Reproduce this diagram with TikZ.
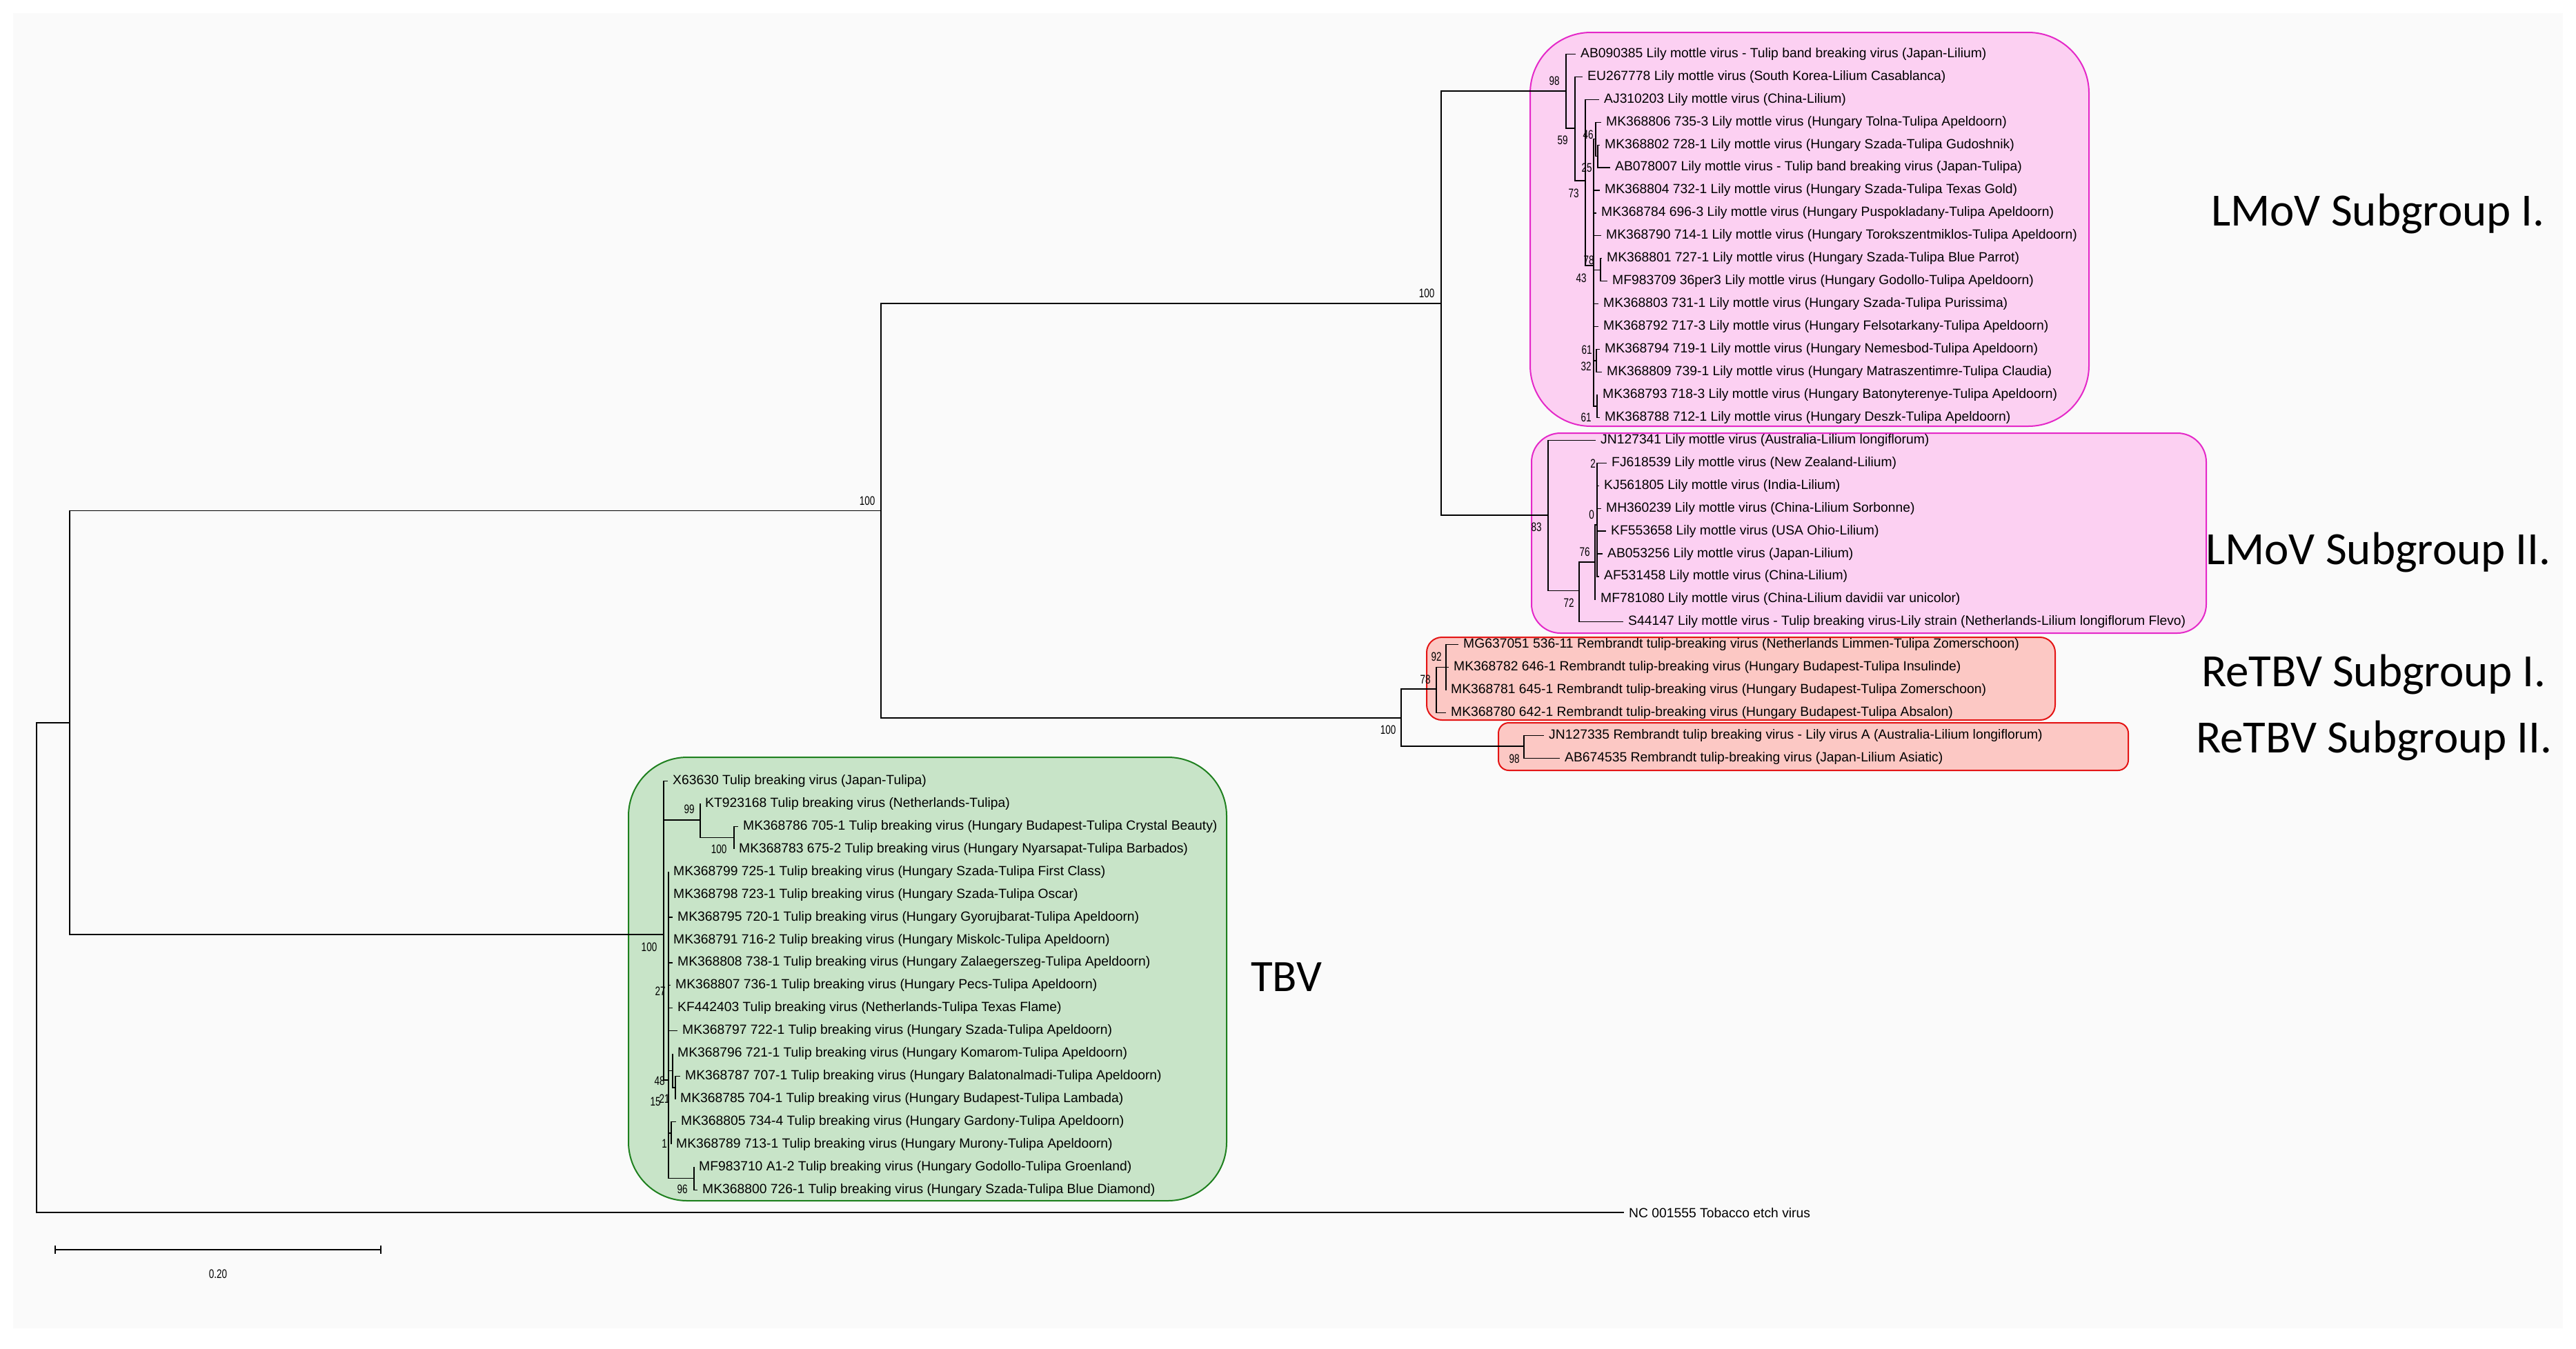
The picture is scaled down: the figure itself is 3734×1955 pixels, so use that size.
\documentclass[tikz,border=0pt]{standalone}
\usepackage{fontspec}
\setmainfont{Liberation Sans}
\newfontfamily\bsfont[FakeStretch=0.75]{Liberation Sans}
\newfontfamily\grpfont{Carlito}
\definecolor{bgc}{RGB}{250,250,250}
\definecolor{lmfill}{RGB}{252,208,242}
\definecolor{lmdraw}{RGB}{228,40,200}
\definecolor{rtfill}{RGB}{252,200,196}
\definecolor{rtdraw}{RGB}{228,20,20}
\definecolor{tbfill}{RGB}{200,228,200}
\definecolor{tbdraw}{RGB}{30,128,30}
\begin{document}
\begin{tikzpicture}[x=1pt,y=-1pt,
  br/.style={line width=1.8pt},
  ib/.style={line width=1.2pt},
  leaf/.style={anchor=west, inner xsep=7pt, inner ysep=0pt, font=\fontsize{19.3}{22}\selectfont},
  bs/.style={inner sep=0pt, font=\bsfont\fontsize{18}{20}\selectfont},
  grp/.style={anchor=base west, inner sep=0pt, font=\grpfont\fontsize{67}{74}\selectfont},
  lmbox/.style={draw=lmdraw, fill=lmfill, line width=2pt},
  rtbox/.style={draw=rtdraw, fill=rtfill, line width=2pt},
  tbbox/.style={draw=tbdraw, fill=tbfill, line width=2pt}]
\useasboundingbox (0,0) rectangle (3734,1955);
\fill[white] (0,0) rectangle (3734,1955);
\fill[bgc] (19,19) rectangle (3715,1926);
% group boxes
\draw[lmbox, rounded corners=88pt] (2218,47) rectangle (3028,618);
\draw[lmbox, rounded corners=42pt] (2220,628) rectangle (3198,918);
\draw[rtbox, rounded corners=22pt] (2068,924) rectangle (2979,1044);
\draw[rtbox, rounded corners=15pt] (2172,1048) rectangle (3085,1117);
\draw[tbbox, rounded corners=85pt] (911,1098) rectangle (1778,1741);
% internal nodes
\coordinate (root) at (53,1403);
\coordinate (B) at (101,1048);
\coordinate (A) at (1277,740.5);
\coordinate (L) at (2089,440);
\coordinate (R0) at (2031,1041);
\coordinate (R1) at (2082,999.3);
\coordinate (R2) at (2096,967.7);
\coordinate (R3) at (2209,1082);
\coordinate (N1) at (2270,131.7);
\coordinate (N2) at (2283,186);
\coordinate (N3) at (2298,262);
\coordinate (N4) at (2310,385);
\coordinate (C46) at (2313,201.8);
\coordinate (C25) at (2316,226.5);
\coordinate (C78) at (2320,391.2);
\coordinate (C61a) at (2314,523);
\coordinate (C61b) at (2315,588.9);
\coordinate (M1) at (2244,747);
\coordinate (M2) at (2289,856.7);
\coordinate (M3) at (2312,815);
\coordinate (S0) at (2315,761);
\coordinate (T0) at (962,1355);
\coordinate (T99) at (1015,1189);
\coordinate (T100) at (1064,1214.8);
\coordinate (T1) at (969,1566);
\coordinate (T48) at (975,1552.6);
\coordinate (T21) at (979,1577);
\coordinate (T1c) at (973,1643);
\coordinate (T96) at (1006,1708.8);
% leaves
\node[leaf] (l1) at (2284,78.3) {AB090385 Lily mottle virus - Tulip band breaking virus (Japan-Lilium)};
\node[leaf] (l2) at (2294,111.2) {EU267778 Lily mottle virus (South Korea-Lilium Casablanca)};
\node[leaf] (l3) at (2318,144.2) {AJ310203 Lily mottle virus (China-Lilium)};
\node[leaf] (l4) at (2321,177.1) {MK368806 735-3 Lily mottle virus (Hungary Tolna-Tulipa Apeldoorn)};
\node[leaf] (l5) at (2319,210.1) {MK368802 728-1 Lily mottle virus (Hungary Szada-Tulipa Gudoshnik)};
\node[leaf] (l6) at (2334,243.0) {AB078007 Lily mottle virus - Tulip band breaking virus (Japan-Tulipa)};
\node[leaf] (l7) at (2319,275.9) {MK368804 732-1 Lily mottle virus (Hungary Szada-Tulipa Texas Gold)};
\node[leaf] (l8) at (2314,308.9) {MK368784 696-3 Lily mottle virus (Hungary Puspokladany-Tulipa Apeldoorn)};
\node[leaf] (l9) at (2321,341.8) {MK368790 714-1 Lily mottle virus (Hungary Torokszentmiklos-Tulipa Apeldoorn)};
\node[leaf] (l10) at (2322,374.8) {MK368801 727-1 Lily mottle virus (Hungary Szada-Tulipa Blue Parrot)};
\node[leaf] (l11) at (2330,407.7) {MF983709 36per3 Lily mottle virus (Hungary Godollo-Tulipa Apeldoorn)};
\node[leaf] (l12) at (2317,440.6) {MK368803 731-1 Lily mottle virus (Hungary Szada-Tulipa Purissima)};
\node[leaf] (l13) at (2317,473.6) {MK368792 717-3 Lily mottle virus (Hungary Felsotarkany-Tulipa Apeldoorn)};
\node[leaf] (l14) at (2319,506.5) {MK368794 719-1 Lily mottle virus (Hungary Nemesbod-Tulipa Apeldoorn)};
\node[leaf] (l15) at (2322,539.5) {MK368809 739-1 Lily mottle virus (Hungary Matraszentimre-Tulipa Claudia)};
\node[leaf] (l16) at (2316,572.4) {MK368793 718-3 Lily mottle virus (Hungary Batonyterenye-Tulipa Apeldoorn)};
\node[leaf] (l17) at (2319,605.3) {MK368788 712-1 Lily mottle virus (Hungary Deszk-Tulipa Apeldoorn)};
\node[leaf] (l18) at (2313,638.3) {JN127341 Lily mottle virus (Australia-Lilium longiflorum)};
\node[leaf] (l19) at (2329,671.2) {FJ618539 Lily mottle virus (New Zealand-Lilium)};
\node[leaf] (l20) at (2318,704.2) {KJ561805 Lily mottle virus (India-Lilium)};
\node[leaf] (l21) at (2321,737.1) {MH360239 Lily mottle virus (China-Lilium Sorbonne)};
\node[leaf] (l22) at (2328,770.0) {KF553658 Lily mottle virus (USA Ohio-Lilium)};
\node[leaf] (l23) at (2323,803.0) {AB053256 Lily mottle virus (Japan-Lilium)};
\node[leaf] (l24) at (2318,835.9) {AF531458 Lily mottle virus (China-Lilium)};
\node[leaf] (l25) at (2313,868.9) {MF781080 Lily mottle virus (China-Lilium davidii var unicolor)};
\node[leaf] (l26) at (2353,901.8) {S44147 Lily mottle virus - Tulip breaking virus-Lily strain (Netherlands-Lilium longiflorum Flevo)};
\node[leaf] (l27) at (2114,934.7) {MG637051 536-11 Rembrandt tulip-breaking virus (Netherlands Limmen-Tulipa Zomerschoon)};
\node[leaf] (l28) at (2100,967.7) {MK368782 646-1 Rembrandt tulip-breaking virus (Hungary Budapest-Tulipa Insulinde)};
\node[leaf] (l29) at (2096,1000.6) {MK368781 645-1 Rembrandt tulip-breaking virus (Hungary Budapest-Tulipa Zomerschoon)};
\node[leaf] (l30) at (2096,1033.6) {MK368780 642-1 Rembrandt tulip-breaking virus (Hungary Budapest-Tulipa Absalon)};
\node[leaf] (l31) at (2238,1066.5) {JN127335 Rembrandt tulip breaking virus - Lily virus A (Australia-Lilium longiflorum)};
\node[leaf] (l32) at (2261,1099.4) {AB674535 Rembrandt tulip-breaking virus (Japan-Lilium Asiatic)};
\node[leaf] (l33) at (968,1132.4) {X63630 Tulip breaking virus (Japan-Tulipa)};
\node[leaf] (l34) at (1015,1165.3) {KT923168 Tulip breaking virus (Netherlands-Tulipa)};
\node[leaf] (l35) at (1070,1198.3) {MK368786 705-1 Tulip breaking virus (Hungary Budapest-Tulipa Crystal Beauty)};
\node[leaf] (l36) at (1064,1231.2) {MK368783 675-2 Tulip breaking virus (Hungary Nyarsapat-Tulipa Barbados)};
\node[leaf] (l37) at (969,1264.1) {MK368799 725-1 Tulip breaking virus (Hungary Szada-Tulipa First Class)};
\node[leaf] (l38) at (969,1297.1) {MK368798 723-1 Tulip breaking virus (Hungary Szada-Tulipa Oscar)};
\node[leaf] (l39) at (975,1330.0) {MK368795 720-1 Tulip breaking virus (Hungary Gyorujbarat-Tulipa Apeldoorn)};
\node[leaf] (l40) at (969,1363.0) {MK368791 716-2 Tulip breaking virus (Hungary Miskolc-Tulipa Apeldoorn)};
\node[leaf] (l41) at (975,1395.9) {MK368808 738-1 Tulip breaking virus (Hungary Zalaegerszeg-Tulipa Apeldoorn)};
\node[leaf] (l42) at (972,1428.8) {MK368807 736-1 Tulip breaking virus (Hungary Pecs-Tulipa Apeldoorn)};
\node[leaf] (l43) at (975,1461.8) {KF442403 Tulip breaking virus (Netherlands-Tulipa Texas Flame)};
\node[leaf] (l44) at (982,1494.7) {MK368797 722-1 Tulip breaking virus (Hungary Szada-Tulipa Apeldoorn)};
\node[leaf] (l45) at (975,1527.7) {MK368796 721-1 Tulip breaking virus (Hungary Komarom-Tulipa Apeldoorn)};
\node[leaf] (l46) at (986,1560.6) {MK368787 707-1 Tulip breaking virus (Hungary Balatonalmadi-Tulipa Apeldoorn)};
\node[leaf] (l47) at (979,1593.5) {MK368785 704-1 Tulip breaking virus (Hungary Budapest-Tulipa Lambada)};
\node[leaf] (l48) at (980,1626.5) {MK368805 734-4 Tulip breaking virus (Hungary Gardony-Tulipa Apeldoorn)};
\node[leaf] (l49) at (973,1659.4) {MK368789 713-1 Tulip breaking virus (Hungary Murony-Tulipa Apeldoorn)};
\node[leaf] (l50) at (1006,1692.4) {MF983710 A1-2 Tulip breaking virus (Hungary Godollo-Tulipa Groenland)};
\node[leaf] (l51) at (1011,1725.3) {MK368800 726-1 Tulip breaking virus (Hungary Szada-Tulipa Blue Diamond)};
\node[leaf] (l52) at (2354,1758.2) {NC 001555 Tobacco etch virus};
% main branches
\draw[br] (root) |- (B);
\draw[br] (root) |- (l52.west);
\draw[br] (B) |- (A);
\draw[br] (B) |- (T0);
\draw[br] (A) |- (L);
\draw[br] (A) |- (R0);
\draw[br] (L) |- (N1);
\draw[br] (L) |- (M1);
\draw[br] (R0) |- (R1);
\draw[br] (R0) |- (R3);
% LMoV I
\draw[ib] (N1) |- (l1.west);
\draw[ib] (N1) |- (N2);
\draw[ib] (N2) |- (l2.west);
\draw[ib] (N2) |- (N3);
\draw[ib] (N3) |- (l3.west);
\draw[ib] (N3) |- (N4);
\draw[ib] (N4) |- (C46);
\draw[ib] (C46) |- (l4.west);
\draw[ib] (C46) |- (C25);
\draw[ib] (C25) |- (l5.west);
\draw[ib] (C25) |- (l6.west);
\draw[ib] (N4) |- (l7.west);
\draw[ib] (N4) |- (l8.west);
\draw[ib] (N4) |- (l9.west);
\draw[ib] (N4) |- (C78);
\draw[ib] (C78) |- (l10.west);
\draw[ib] (C78) |- (l11.west);
\draw[ib] (N4) |- (l12.west);
\draw[ib] (N4) |- (l13.west);
\draw[ib] (N4) |- (C61a);
\draw[ib] (C61a) |- (l14.west);
\draw[ib] (C61a) |- (l15.west);
\draw[ib] (N4) |- (C61b);
\draw[ib] (C61b) |- (l16.west);
\draw[ib] (C61b) |- (l17.west);
% LMoV II
\draw[ib] (M1) |- (l18.west);
\draw[ib] (M1) |- (M2);
\draw[ib] (M2) |- (M3);
\draw[ib] (M2) |- (l26.west);
\draw[ib] (M3) |- (S0);
\draw[ib] (M3) |- (l25.west);
\foreach \k in {19,...,24} {\draw[ib] (S0) |- (l\k.west);}
% ReTBV
\draw[ib] (R1) |- (R2);
\draw[ib] (R1) |- (l30.west);
\draw[ib] (R2) |- (l27.west);
\draw[ib] (R2) |- (l28.west);
\draw[ib] (R2) |- (l29.west);
\draw[ib] (R3) |- (l31.west);
\draw[ib] (R3) |- (l32.west);
% TBV
\draw[ib] (T0) |- (l33.west);
\draw[ib] (T0) |- (T99);
\draw[ib] (T0) |- (T1);
\draw[ib] (T99) |- (l34.west);
\draw[ib] (T99) |- (T100);
\draw[ib] (T100) |- (l35.west);
\draw[ib] (T100) |- (l36.west);
\foreach \k in {37,...,44} {\draw[ib] (T1) |- (l\k.west);}
\draw[ib] (T1) |- (T48);
\draw[ib] (T48) |- (l45.west);
\draw[ib] (T48) |- (T21);
\draw[ib] (T21) |- (l46.west);
\draw[ib] (T21) |- (l47.west);
\draw[ib] (T1) |- (T1c);
\draw[ib] (T1c) |- (l48.west);
\draw[ib] (T1c) |- (l49.west);
\draw[ib] (T1) |- (T96);
\draw[ib] (T96) |- (l50.west);
\draw[ib] (T96) |- (l51.west);
% bootstrap values
\node[bs] (b1) at (2068,425) {100};
\node[bs] (b2) at (1257,726) {100};
\node[bs] (b3) at (2012,1058) {100};
\node[bs] (b4) at (941,1373) {100};
\node[bs] (b5) at (2253,117) {98};
\node[bs] (b6) at (2265,203) {59};
\node[bs] (b7) at (2281,280) {73};
\node[bs] (b8) at (2302,195) {46};
\node[bs] (b9) at (2300,243) {25};
\node[bs] (b10) at (2303,377) {78};
\node[bs] (b11) at (2292,403) {43};
\node[bs] (b12) at (2300,507) {61};
\node[bs] (b13) at (2299,531) {32};
\node[bs] (b14) at (2299,605) {61};
\node[bs] (b15) at (2227,764) {83};
\node[bs] (b16) at (2309,672) {2};
\node[bs] (b17) at (2307,746) {0};
\node[bs] (b18) at (2297,800) {76};
\node[bs] (b19) at (2274,874) {72};
\node[bs] (b20) at (2082,952) {92};
\node[bs] (b21) at (2066,985) {78};
\node[bs] (b22) at (2195,1100) {98};
\node[bs] (b23) at (999,1173) {99};
\node[bs] (b24) at (1042,1231) {100};
\node[bs] (b25) at (957,1437) {27};
\node[bs] (b26) at (956,1567) {48};
\node[bs] (b27) at (950,1597) {15};
\node[bs] (b28) at (963,1593) {21};
\node[bs] (b29) at (963,1658) {1};
\node[bs] (b30) at (989,1724) {96};
% group labels
\node[grp] (g1) at (3205,327.6) {LMoV Subgroup I.};
\node[grp] (g2) at (3197,818.4) {LMoV Subgroup II.};
\node[grp] (g3) at (3191,995) {ReTBV Subgroup I.};
\node[grp] (g4) at (3183,1091) {ReTBV Subgroup II.};
\node[grp, font=\grpfont\fontsize{65}{72}\selectfont] (g5) at (1813,1437) {TBV};
% scale bar
\coordinate (s1) at (80,1812);
\coordinate (s2) at (552,1812);
\draw[line width=1.5pt] (s1) -- (s2);
\draw[line width=1.5pt] ([yshift=-6pt]s1) -- ([yshift=6pt]s1);
\draw[line width=1.5pt] ([yshift=-6pt]s2) -- ([yshift=6pt]s2);
\node[bs] (sl) at (316,1847) {0.20};
\end{tikzpicture}
\end{document}
